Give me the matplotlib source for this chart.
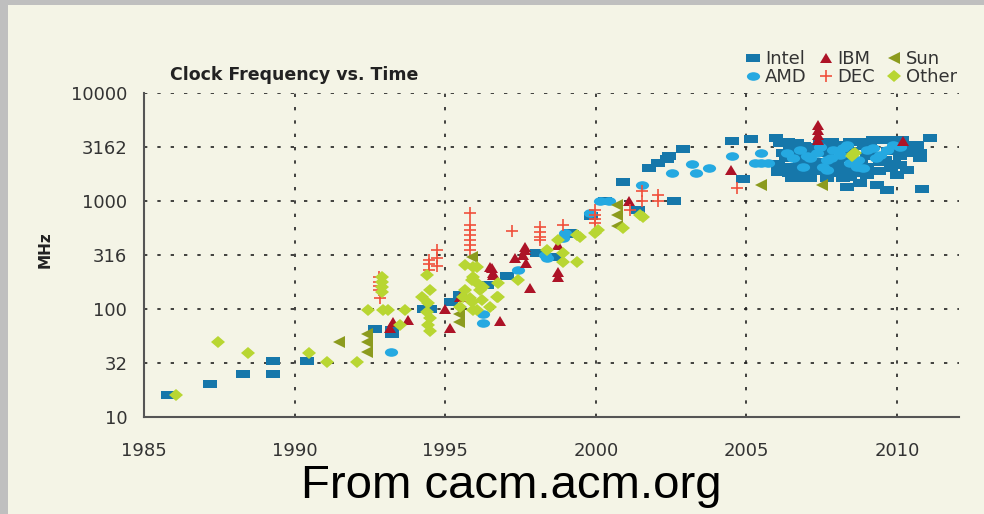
import matplotlib
matplotlib.use("Agg")
import matplotlib.pyplot as plt
from matplotlib.markers import MarkerStyle
from matplotlib.transforms import Affine2D
from matplotlib.patches import Rectangle

# data (year, MHz)
intel_year = [1985.8, 1987.2, 1988.3, 1989.3, 1989.3, 1990.4, 1992.67, 1993.22, 1993.22,
              1994.3, 1994.5, 1995.19, 1995.49, 1996.4, 1997.04, 1998.04, 1998.65, 1999.14,
              1999.2, 1999.83, 2000.31, 2000.91, 2001.41, 2001.77, 2002.07, 2002.35, 2002.44,
              2002.6, 2002.9, 2004.51, 2004.9, 2005.15,
              2005.98, 2006.12, 2006.06, 2006.06, 2006.39, 2006.67, 2006.45, 2006.45, 2006.51,
              2006.78, 2006.78, 2006.89, 2007.11, 2007.11, 2007.22, 2007.44, 2007.67, 2007.67,
              2007.83, 2008.0, 2008.11, 2008.22, 2008.44, 2008.33, 2008.44, 2008.77, 2008.77,
              2008.99, 2009.21, 2009.33, 2009.44, 2009.49, 2009.66, 2009.77, 2009.99, 2010.1,
              2010.16, 2010.32, 2010.32, 2010.65, 2010.76, 2010.76, 2010.82, 2011.1,
              2007.0, 2007.3, 2007.9, 2008.5, 2009.0, 2009.6, 2009.9, 2008.1, 2006.6,
              2006.3, 2006.4, 2006.7, 2006.9, 2007.0, 2007.2, 2007.4, 2007.6, 2007.8,
              2008.0, 2008.2, 2008.4, 2008.6, 2008.8, 2009.0, 2009.2, 2009.4, 2009.7,
              2009.9, 2010.1, 2010.3, 2006.5, 2007.5, 2008.3, 2009.1, 2009.8, 2010.2,
              2006.2, 2007.1, 2008.9]
intel_mhz = [16, 20, 25, 25, 33, 33, 65, 64, 59,
             100, 100, 117, 135, 167, 200, 332, 302, 502,
             491, 730, 1000, 1510, 826, 2005, 2230, 2430, 2610,
             1000, 3030, 3610, 1600, 3780,
             3850, 3420, 2200, 1870, 3540, 3420, 2970, 2080, 1620,
             2230, 1620, 2760, 2010, 1620, 3190, 3540, 1620, 2760,
             3540, 1800, 3300, 1620, 1680, 1340, 3540, 3540, 1460,
             2080, 3670, 1410, 2310, 3670, 1265, 3670, 1740, 2150,
             3670, 2760, 1935, 3300, 2760, 2480, 1285, 3850,
             2700, 2300, 2400, 2900, 2600, 2400, 3000, 2000, 2600,
             2500, 1800, 1900, 3200, 1800, 2200, 1900, 2100, 3100,
             2200, 1900, 2000, 1800, 2300, 1750, 2600, 1900, 2900,
             2200, 2600, 3300, 3200, 3400, 2500, 3500, 2000, 3000,
             2800, 2900, 3200]

amd_year = [1993.2, 1996.27, 1996.27, 1997.43, 1998.31, 1998.37, 1998.98, 1998.92, 1999.8,
            2000.15, 2000.45, 2001.52, 2002.52, 2003.18, 2003.33, 2003.77, 2004.51, 2005.5,
            2005.28, 2005.5, 2005.72,
            2006.78, 2007.11, 2007.33, 2007.55, 2007.67, 2007.89, 2008.11, 2008.44, 2008.66,
            2008.88, 2008.99, 2009.21, 2009.44, 2009.66, 2009.88, 2008.22, 2007.44, 2006.89,
            2006.56, 2010.1, 2006.34, 2008.33, 2007.67, 2007.0, 2007.8, 2008.7, 2009.3]
amd_mhz = [40, 89, 74, 230, 316, 294, 502, 452, 770,
           1000, 1000, 1408, 1800, 2190, 1800, 2005, 2610, 2800,
           2230, 2230, 2230,
           2970, 2480, 2760, 2080, 1935, 2970, 2670, 2230, 2080,
           2010, 2970, 3080, 2670, 2970, 3300, 3080, 3190, 2080,
           2480, 3190, 2760, 3300, 2400, 2600, 2500, 2400, 2500]

ibm_year = [1993.17, 1993.28, 1993.78, 1994.99, 1995.16, 1995.49, 1995.6, 1996.49, 1996.54,
            1996.6, 1996.6, 1996.82, 1997.32, 1997.6, 1997.65, 1997.65, 1997.7, 1997.82,
            1998.76, 1998.76, 1998.76, 2001.1, 2004.5, 2007.39, 2007.39, 2007.39, 2007.39,
            2010.2]
ibm_mhz = [66, 76, 79, 100, 66, 130, 135, 246, 238,
           214, 206, 77, 294, 316, 352, 378, 265, 158,
           392, 221, 197, 1000, 1935, 5060, 4540, 4080, 3670,
           3600]

dec_year = [1992.81, 1992.81, 1992.81, 1992.81, 1992.85, 1994.47, 1994.47, 1994.47, 1994.74,
            1994.74, 1994.74, 1995.82, 1995.82, 1995.82, 1995.82, 1995.82, 1995.82, 1995.82,
            1997.21, 1998.15, 1998.15, 1998.15, 1998.15, 1998.92, 1999.97, 1999.97, 1999.97,
            1999.97, 2001.13, 2001.52, 2001.52, 2002.07, 2002.07, 2004.68]
dec_mhz = [197, 179, 163, 150, 126, 284, 259, 230, 352,
           294, 250, 770, 600, 540, 485, 435, 390, 350,
           528, 578, 520, 468, 435, 600, 826, 742, 676,
           621, 826, 1240, 1000, 1137, 1000, 1310]

sun_year = [1991.48, 1992.41, 1992.41, 1992.41, 1995.45, 1995.45, 1995.88, 2000.69, 2000.69,
            2000.69, 2005.5, 2007.5]
sun_mhz = [49, 59, 49, 40, 90, 75, 305, 918, 742,
           588, 1410, 1410]

other_year = [1986.08, 1987.47, 1988.46, 1990.49, 1991.07, 1992.06, 1992.45, 1992.95, 1993.1,
              1993.67, 1992.9, 1992.9, 1992.9, 1992.9, 1993.5, 1994.22, 1994.5, 1994.44,
              1994.39, 1994.5, 1994.44, 1994.5, 1994.39, 1995.93, 1995.93, 1996.05, 1996.21,
              1995.82, 1995.66, 1996.71, 1996.49, 1996.05, 1996.27, 1995.66, 1996.05, 1995.88,
              1996.15, 1995.6, 1995.88, 1996.76, 1996.76, 1997.43, 1998.37, 1998.76, 1998.92,
              1998.92, 1999.37, 1999.48, 1999.97, 1995.93, 1995.49, 1999.37, 2000.08, 2001.58,
              2001.47, 2000.91, 2008.55, 2008.5, 2008.6]
other_mhz = [16, 49, 39.5, 39.5, 32, 32, 98, 98, 98,
             98, 199, 179, 161, 145, 71, 130, 150, 113,
             94, 82, 71, 62, 206, 246, 199, 173, 121,
             126, 150, 130, 105, 98, 161, 255, 246, 186,
             150, 130, 117, 173, 130, 186, 352, 435, 328,
             274, 274, 468, 502, 98, 105, 484, 538, 716,
             742, 558, 2700, 2600, 2800]

yticks = [10, 10**1.5, 100, 10**2.5, 1000, 10**3.5, 10000]
ytick_labels = ["10", "32", "100", "316", "1000", "3162", "10000"]
xticks = [1985, 1990, 1995, 2000, 2005, 2010]

fig = plt.figure(figsize=(9.84, 5.14), dpi=100)
fig.patch.set_facecolor("#bfbfbf")
fig.add_artist(Rectangle((8 / 984, 0), 1, 509 / 514, transform=fig.transFigure,
                         facecolor="#f4f4e6", edgecolor="none", zorder=-10))

ax = fig.add_axes([0.1463, 0.1887, 0.8283, 0.6304])
ax.set_facecolor("none")
ax.set_yscale("log")
ax.set_xlim(1985, 2012.06)
ax.set_ylim(10, 10000)

rect = MarkerStyle([(-1, -0.6), (1, -0.6), (1, 0.6), (-1, 0.6), (-1, -0.6)])
ellipse = MarkerStyle("o", transform=Affine2D().scale(1.0, 0.65))
tri = MarkerStyle("^", transform=Affine2D().scale(1.0, 0.75))
diamond = MarkerStyle("D", transform=Affine2D().scale(1.0, 0.75))

h_intel, = ax.plot(intel_year, intel_mhz, ls="none", marker=rect, ms=9.5,
                   color="#1677aa", mew=0, label="Intel", zorder=3)
h_amd, = ax.plot(amd_year, amd_mhz, ls="none", marker=ellipse, ms=9.5,
                 color="#25a9e1", mew=0, label="AMD", zorder=3)
h_ibm, = ax.plot(ibm_year, ibm_mhz, ls="none", marker=tri, ms=9,
                 color="#ad1327", mew=0, label="IBM", zorder=4)
h_dec, = ax.plot(dec_year, dec_mhz, ls="none", marker="+", ms=8.5,
                 color="#f0503c", mew=1.2, label="DEC", zorder=4)
h_sun, = ax.plot(sun_year, sun_mhz, ls="none", marker="<", ms=8.5,
                 color="#8c9b1e", mew=0, label="Sun", zorder=4)
h_other, = ax.plot(other_year, other_mhz, ls="none", marker=diamond, ms=7.5,
                   color="#b8d632", mew=0, label="Other", zorder=4)

ax.set_yticks(yticks)
ax.set_yticklabels(ytick_labels)
ax.yaxis.set_minor_locator(matplotlib.ticker.NullLocator())
ax.set_xticks(xticks)
ax.tick_params(length=0, labelsize=13, labelcolor="#333333")
ax.tick_params(axis="y", pad=12)
ax.tick_params(axis="x", pad=18)

ax.grid(True, linestyle=(0, (2, 6)), color="#222222", linewidth=1.2)
for s in ["top", "right"]:
    ax.spines[s].set_visible(False)
for s in ["left", "bottom"]:
    ax.spines[s].set_color("#555555")
    ax.spines[s].set_linewidth(1.5)

fig.text(170 / 984, 1 - 75 / 514, "Clock Frequency vs. Time", fontsize=12.5,
         fontweight="bold", color="#222222", va="center")
fig.text(45 / 984, 1 - 250 / 514, "MHz", fontsize=11, fontweight="bold",
         color="#222222", rotation=90, ha="center", va="center")

fig.legend([h_intel, h_amd, h_ibm, h_dec, h_sun, h_other],
           ["Intel", "AMD", "IBM", "DEC", "Sun", "Other"],
           ncol=3, loc="upper right", bbox_to_anchor=(966 / 984, 1 - 41 / 514),
           frameon=False, prop={"size": 13},
           handlelength=0.7, handletextpad=0.3, columnspacing=0.7,
           labelspacing=0.0, borderpad=0, labelcolor="#333333")

fig.text(0.52, 1 - 498 / 514, "From cacm.acm.org", fontsize=34,
         family="Liberation Sans", color="black", ha="center", va="baseline")

fig.savefig("out.png", dpi=100, facecolor=fig.get_facecolor())
